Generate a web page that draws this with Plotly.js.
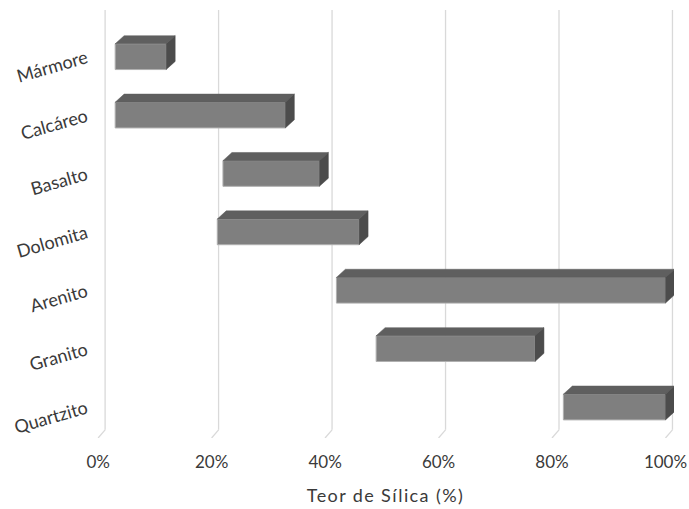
<!DOCTYPE html>
<html><head><meta charset="utf-8">
<script src="https://cdn.plot.ly/plotly-3.0.1.min.js"></script>
<style>body{margin:0;background:#fff}#c{width:689px;height:509px}
.g-xtitle text, .xtitle{letter-spacing:1.4px}</style>
</head><body><div id="c"></div>
<script>
const categories = ["Mármore","Calcáreo","Basalto","Dolomita","Arenito","Granito","Quartzito"];
const startVals = [3, 3, 22, 21, 42, 49, 82];
const endVals = [12, 33, 39, 46, 100, 77, 100];
const tickVals = [0, 20, 40, 60, 80, 100];
const tickLabels = ["0%", "20%", "40%", "60%", "80%", "100%"];

const idx = categories.map((c,i)=>i);
const half = 0.22, dxB = 1.58, dyB = 0.14;
const dxG = 1.23, yTop = -0.8, yBackFloor = 6.39, yFrontFloor = 6.53;

// gridlines (back wall + floor diagonal) as shapes below the bars
const shapes = [];
tickVals.forEach(v=>{
  shapes.push({type:'line', layer:'below', xref:'x', yref:'y', x0:v+dxG, x1:v+dxG, y0:yTop, y1:yBackFloor, line:{color:'#d9d9d9', width:1.3}});
  shapes.push({type:'line', layer:'below', xref:'x', yref:'y', x0:v+dxG, x1:v, y0:yBackFloor, y1:yFrontFloor, line:{color:'#d9d9d9', width:1.3}});
});

const topX=[], topY=[], sideX=[], sideY=[];
idx.forEach(i=>{
  const s=startVals[i], e=endVals[i], yt=i-half, yb=i+half;
  topX.push(s, e, e+dxB, s+dxB, s, null); topY.push(yt, yt, yt-dyB, yt-dyB, yt, null);
  sideX.push(e, e+dxB, e+dxB, e, e, null); sideY.push(yt, yt-dyB, yb-dyB, yb, yt, null);
});

const traces = [
  {type:'bar', orientation:'h', y:idx, base:startVals, x:endVals.map((e,i)=>e-startVals[i]), width:2*half,
   marker:{color:'#7f7f7f', line:{color:'#b0b0b0', width:1}}},
  {type:'scatter', mode:'lines', x:topX, y:topY, fill:'toself', fillcolor:'#5f5f5f', line:{color:'#5f5f5f', width:0.5}, hoverinfo:'skip'},
  {type:'scatter', mode:'lines', x:sideX, y:sideY, fill:'toself', fillcolor:'#4c4c4c', line:{color:'#4c4c4c', width:0.5}, hoverinfo:'skip'}
];

const layout = {
  width:689, height:509, showlegend:false,
  margin:{l:97, r:15, t:10, b:71},
  paper_bgcolor:'#fff', plot_bgcolor:'#fff',
  font:{family:'Lato, sans-serif', color:'#3a3a3a', size:17},
  shapes: shapes,
  xaxis:{range:[-0.2,101.5], tickmode:'array', tickvals:tickVals, ticktext:tickLabels, showgrid:false, zeroline:false, showline:false,
    ticks:'outside', ticklen:9, tickcolor:'rgba(0,0,0,0)', tickfont:{size:17, color:'#3a3a3a'},
    title:{text:'Teor de Sílica (%)', font:{size:18, color:'#3a3a3a'}, standoff:17}},
  yaxis:{range:[yFrontFloor, yTop], tickmode:'array', tickvals:idx, ticktext:categories, showgrid:false, zeroline:false, showline:false,
    tickangle:-16, ticks:'outside', ticklen:6, tickcolor:'rgba(0,0,0,0)', tickfont:{size:18, color:'#3a3a3a'}}
};
Plotly.newPlot('c', traces, layout, {displayModeBar:false, staticPlot:true});
</script></body></html>
